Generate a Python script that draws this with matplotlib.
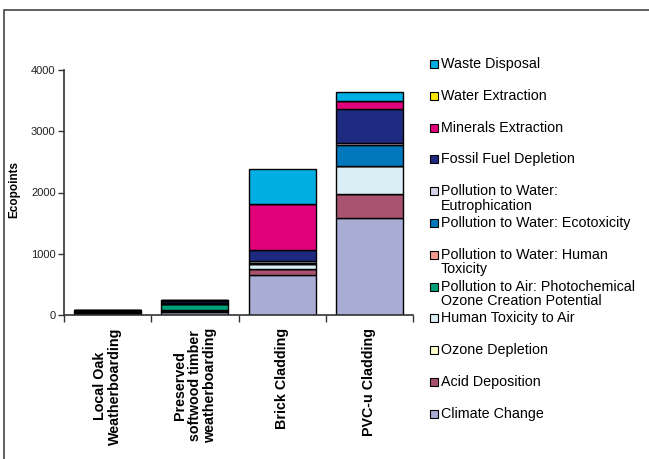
import matplotlib
matplotlib.use("Agg")
import matplotlib.pyplot as plt
from matplotlib.patches import Rectangle
import numpy as np

plt.rcParams['font.family'] = ['Liberation Sans', 'DejaVu Sans']

categories = ["Local Oak\nWeatherboarding",
              "Preserved\nsoftwood timber\nweatherboarding",
              "Brick Cladding",
              "PVC-u Cladding"]

# impact categories, stacked bottom to top
impacts = ["Climate Change", "Acid Deposition", "Ozone Depletion",
           "Human Toxicity to Air",
           "Pollution to Air: Photochemical\nOzone Creation Potential",
           "Pollution to Water: Human\nToxicity",
           "Pollution to Water: Ecotoxicity",
           "Pollution to Water:\nEutrophication",
           "Fossil Fuel Depletion", "Minerals Extraction",
           "Water Extraction", "Waste Disposal"]

climate_change = [20, 50, 660, 1580]
acid_deposition = [5, 15, 90, 390]
ozone_depletion = [1, 2, 5, 5]
human_toxicity_air = [10, 15, 80, 450]
photochemical_ozone = [15, 95, 5, 5]
water_human_toxicity = [2, 3, 5, 5]
water_ecotoxicity = [3, 5, 10, 335]
eutrophication = [2, 5, 20, 40]
fossil_fuel = [20, 45, 185, 555]
minerals = [3, 5, 755, 125]
water_extraction = [1, 1, 3, 5]
waste_disposal = [3, 9, 570, 145]

series = [climate_change, acid_deposition, ozone_depletion, human_toxicity_air,
          photochemical_ozone, water_human_toxicity, water_ecotoxicity,
          eutrophication, fossil_fuel, minerals, water_extraction, waste_disposal]

colors = ["#A9ACD4", "#A8526F", "#FFFFCC", "#DAEEF6", "#00A07A", "#F29A90",
          "#0078BB", "#D2D3E6", "#1E2A80", "#E0007A", "#FFE600", "#00AEE2"]

fig = plt.figure(figsize=(6.49, 4.59), dpi=100)
W, H = 649, 459
ax = fig.add_axes([64 / W, 1 - 315 / H, (413 - 64) / W, (315 - 70) / H])

x = np.arange(len(categories))
bottom = np.zeros(len(categories))
for vals, col in zip(series, colors):
    vals = np.array(vals, dtype=float)
    ax.bar(x, vals, bottom=bottom, width=0.77, color=col,
           edgecolor="black", linewidth=1.0)
    bottom += vals

ax.set_xlim(-0.5, len(categories) - 0.5)
ax.set_ylim(0, 4000)
ax.set_yticks([0, 1000, 2000, 3000, 4000])
ax.tick_params(axis='y', labelsize=8, length=4, width=1, color="#333333",
               pad=2, labelcolor="#222222")

ax.set_xticks(x)
ax.set_xticklabels(categories, rotation=90, fontsize=10.3, fontweight='bold',
                   ha='center', va='top', multialignment='center',
                   linespacing=1.1)
ax.tick_params(axis='x', length=0, pad=9)
ax.set_xticks(np.arange(-0.5, len(categories)), minor=True)
ax.tick_params(axis='x', which='minor', length=5, width=1, color="#333333")

for s in ["top", "right"]:
    ax.spines[s].set_visible(False)
for s in ["left", "bottom"]:
    ax.spines[s].set_color("#333333")
    ax.spines[s].set_linewidth(1.2)

fig.text(14 / W, 1 - 190 / H, "Ecopoints", rotation=90, fontsize=8.5,
         fontweight='bold', ha='center', va='center')

# legend, top entry is the last stacked series
ly0 = 65
step = 31.8
for i, (name, col) in enumerate(zip(impacts[::-1], colors[::-1])):
    yc = ly0 + i * step
    fig.add_artist(Rectangle((430 / W, 1 - (yc + 3) / H), 8 / W, 8 / H,
                             transform=fig.transFigure, facecolor=col,
                             edgecolor="black", linewidth=0.8))
    fig.text(441 / W, 1 - (yc - 8) / H, name, fontsize=10.3, ha='left',
             va='top', linespacing=1.06)

# outer frame
fig.add_artist(Rectangle((4 / W, -0.01), 1.0, 1 - 10 / H + 0.01,
                         transform=fig.transFigure, fill=False,
                         edgecolor="#444444", linewidth=1.2))

fig.savefig("out.png", dpi=100)
